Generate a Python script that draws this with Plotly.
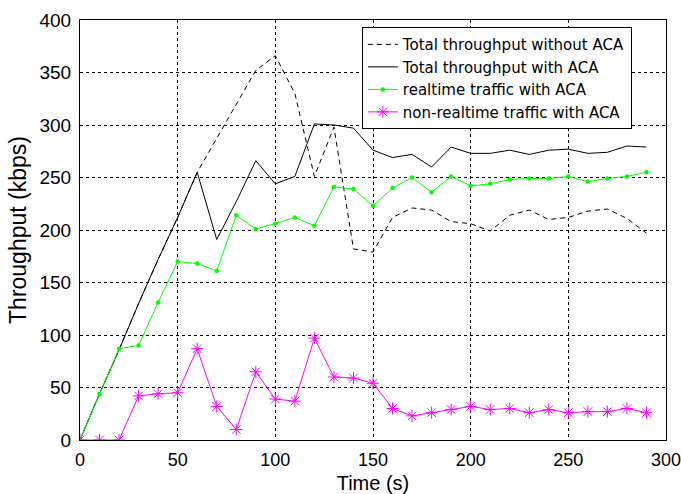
import plotly.graph_objects as go

time_s = list(range(0, 300, 10))

total_without_aca = [0, 44, 86, 130, 172, 212, 255, 287, 320, 352, 366, 330, 251, 298, 182,
                     179, 212, 221, 219, 208, 206, 199, 214, 219, 210, 212, 218, 220, 211, 197]
total_with_aca = [0, 44, 86, 130, 172, 212, 255, 191, 227, 266, 244, 251, 301, 300, 297,
                  276, 269, 272, 260, 279, 273, 273, 276, 272, 276, 277, 273, 274, 280, 279]
realtime_aca = [0, 44, 87, 90, 131, 170, 168, 161, 214, 201, 206, 212, 204, 241, 239,
                223, 240, 250, 236, 251, 242, 244, 248, 249, 249, 251, 246, 249, 251, 255]
nonrealtime_aca = [0, 0, 0, 42, 44, 45, 87, 32, 10, 65, 39, 37, 97, 60, 59,
                   54, 30, 23, 26, 29, 32, 29, 30, 26, 29, 26, 27, 27, 30, 26]

names = ["Total throughput without ACA", "Total throughput with ACA",
         "realtime traffic with ACA", "non-realtime traffic with ACA"]

FONT = "Liberation Sans, Arial, sans-serif"
LEG_FONT = "DejaVu Sans, sans-serif"

fig = go.Figure()
fig.add_trace(go.Scatter(x=time_s, y=total_without_aca, mode="lines", name=names[0],
                         line=dict(color="black", width=1, dash="5px,4px")))
fig.add_trace(go.Scatter(x=time_s, y=total_with_aca, mode="lines", name=names[1],
                         line=dict(color="black", width=1)))
fig.add_trace(go.Scatter(x=time_s, y=realtime_aca, mode="lines+markers", name=names[2],
                         line=dict(color="#00ff00", width=1),
                         marker=dict(symbol="circle", size=4.5, color="#00ff00")))
fig.add_trace(go.Scatter(x=time_s, y=nonrealtime_aca, mode="lines+markers", name=names[3],
                         line=dict(color="#ff00ff", width=1),
                         marker=dict(symbol="asterisk-open", size=10, color="#ff00ff",
                                     line=dict(color="#ff00ff", width=1))))

axis_common = dict(
    showline=True, linecolor="black", linewidth=1, mirror=True,
    showgrid=True, gridcolor="black", gridwidth=1, griddash="3px,3px",
    zeroline=False, ticks="", dtick=50, tick0=0, automargin=False,
)

fig.update_xaxes(range=[0, 300],
                 title=dict(text="Time (s)", font=dict(family=FONT, size=20, color="black"), standoff=8),
                 tickfont=dict(family=FONT, size=18, color="black"),
                 ticklabelstandoff=3, ticklabeloverflow="allow", **axis_common)
fig.update_yaxes(range=[0, 400],
                 title=dict(text="Throughput (kbps)", font=dict(family=FONT, size=23, color="black"), standoff=6),
                 tickfont=dict(family=FONT, size=19, color="black"),
                 ticklabelstandoff=4, **axis_common)

fig.update_layout(
    width=681, height=494,
    margin=dict(l=80, r=15, t=20, b=54),
    paper_bgcolor="white", plot_bgcolor="white",
    font=dict(family=FONT, color="black"),
    legend=dict(x=0.481, y=0.983, xanchor="left", yanchor="top",
                bgcolor="white", bordercolor="black", borderwidth=1,
                font=dict(family=LEG_FONT, size=15, color="black"),
                tracegroupgap=0, itemwidth=30),
    showlegend=True,
)

fig.write_html("out.html")
